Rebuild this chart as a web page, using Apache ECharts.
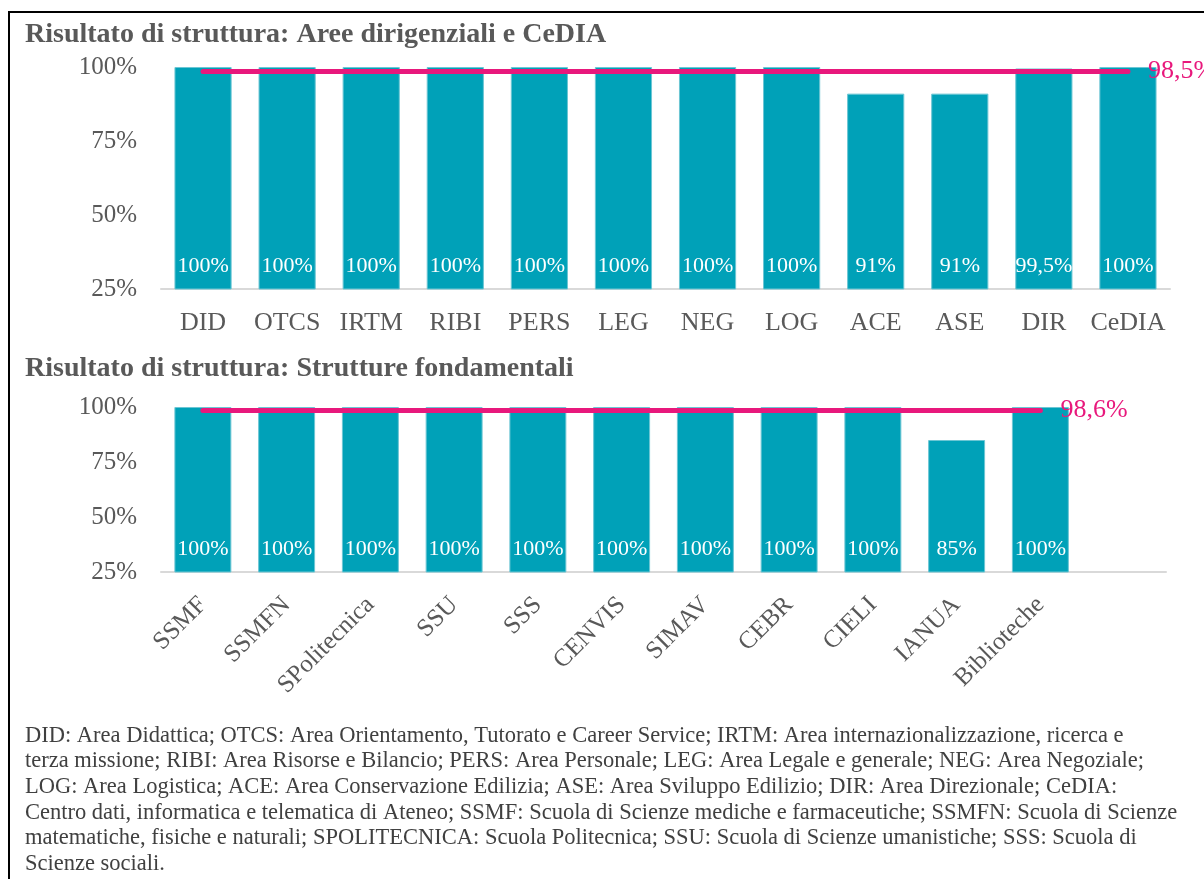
<!DOCTYPE html>
<html>
<head>
<meta charset="utf-8">
<script src="https://cdn.jsdelivr.net/npm/echarts@6/dist/echarts.min.js"></script>
<style>
html,body{margin:0;padding:0;background:#fff;}
#c{width:1204px;height:879px;}
</style>
</head>
<body>
<div id="c"></div>
<script>
// ---- data ----
const title1 = 'Risultato di struttura: Aree dirigenziali e CeDIA';
const title2 = 'Risultato di struttura: Strutture fondamentali';
const categories1 = ['DID','OTCS','IRTM','RIBI','PERS','LEG','NEG','LOG','ACE','ASE','DIR','CeDIA'];
const values1 = [100,100,100,100,100,100,100,100,91,91,99.5,100];
const average1 = 98.5;
const categories2 = ['SSMF','SSMFN','SPolitecnica','SSU','SSS','CENVIS','SIMAV','CEBR','CIELI','IANUA','Biblioteche'];
const values2 = [100,100,100,100,100,100,100,100,100,85,100];
const average2 = 98.6;
const yTicks = [25,50,75,100];
const footnoteLines = [
 'DID: Area Didattica; OTCS: Area Orientamento, Tutorato e Career Service; IRTM: Area internazionalizzazione, ricerca e',
 'terza missione; RIBI: Area Risorse e Bilancio; PERS: Area Personale; LEG: Area Legale e generale; NEG: Area Negoziale;',
 'LOG: Area Logistica; ACE: Area Conservazione Edilizia; ASE: Area Sviluppo Edilizio; DIR: Area Direzionale; CeDIA:',
 'Centro dati, informatica e telematica di Ateneo; SSMF: Scuola di Scienze mediche e farmaceutiche; SSMFN: Scuola di Scienze',
 'matematiche, fisiche e naturali; SPOLITECNICA: Scuola Politecnica; SSU: Scuola di Scienze umanistiche; SSS: Scuola di',
 'Scienze sociali.'
];

// ---- style ----
const FONT = '"Liberation Serif", "DejaVu Serif", serif';
const BAR = '#00A1B8';
const PINK = '#E8187C';
const GREY = '#595959';
const fmt = v => String(v).replace('.', ',') + '%';

const chart = echarts.init(document.getElementById('c'), null, {renderer:'canvas'});

function yAxis(gi){
  return {
    type:'value', gridIndex:gi, min:yTicks[0], max:yTicks[yTicks.length-1], interval:25,
    axisLine:{show:false}, axisTick:{show:false}, splitLine:{show:false},
    axisLabel:{formatter:'{value}%', fontFamily:FONT, fontSize:25, color:GREY, margin:24}
  };
}
function barSeries(gi, vals){
  return {
    type:'bar', xAxisIndex:gi, yAxisIndex:gi, data:vals, barCategoryGap:'32%',
    itemStyle:{color:BAR, borderColor:'#6CC6D4', borderWidth:1},
    label:{show:true, position:'insideBottom', distance:12, formatter:p=>fmt(p.value),
      fontFamily:FONT, fontSize:22, color:'#fff'},
    silent:true, z:2
  };
}
function avgLine(gi, cats, avg, lastCat){
  return {
    type:'line', xAxisIndex:gi, yAxisIndex:gi, data:[], z:5, silent:true,
    markLine:{
      symbol:'none', silent:true,
      lineStyle:{color:PINK, width:5, type:'solid', cap:'round'},
      label:{show:true, position:'end', formatter:fmt(avg), color:PINK, fontFamily:FONT, fontSize:26, distance:20},
      data:[[{coord:[cats[0], avg]},{coord:[lastCat, avg]}]]
    }
  };
}

const option = {
  animation:false,
  textStyle:{fontFamily:FONT},
  grid:[
    {left:161, top:67, width:1009, height:222},
    {left:161, top:407, width:1005, height:165}
  ],
  xAxis:[
    {type:'category', gridIndex:0, data:categories1,
     axisLine:{lineStyle:{color:'#D9D9D9', width:2}}, axisTick:{show:false},
     axisLabel:{fontFamily:FONT, fontSize:26, color:GREY, margin:21, interval:0}},
    {type:'category', gridIndex:1, data:categories2.concat(['']),
     axisLine:{lineStyle:{color:'#D9D9D9', width:2}}, axisTick:{show:false},
     axisLabel:{fontFamily:FONT, fontSize:25, color:GREY, margin:29, interval:0, rotate:45}}
  ],
  yAxis:[yAxis(0), yAxis(1)],
  series:[
    barSeries(0, values1),
    avgLine(0, categories1, average1, categories1[categories1.length-1]),
    barSeries(1, values2),
    avgLine(1, categories2, average2, categories2[categories2.length-1])
  ],
  graphic:[
    {type:'rect', shape:{x:9, y:12, width:1260, height:920}, style:{fill:'none', stroke:'#000', lineWidth:2}, z:10, silent:true},
    {type:'text', left:25, top:21, style:{text:title1, font:'bold 28px ' + FONT, fill:GREY}, z:10},
    {type:'text', left:25, top:355, style:{text:title2, font:'bold 28px ' + FONT, fill:GREY}, z:10},
    {type:'text', left:25, top:723, style:{text:footnoteLines.join('\n'), font:'22.5px ' + FONT, fill:'#404040', lineHeight:25.6}, z:10}
  ]
};
chart.setOption(option);
</script>
</body>
</html>
